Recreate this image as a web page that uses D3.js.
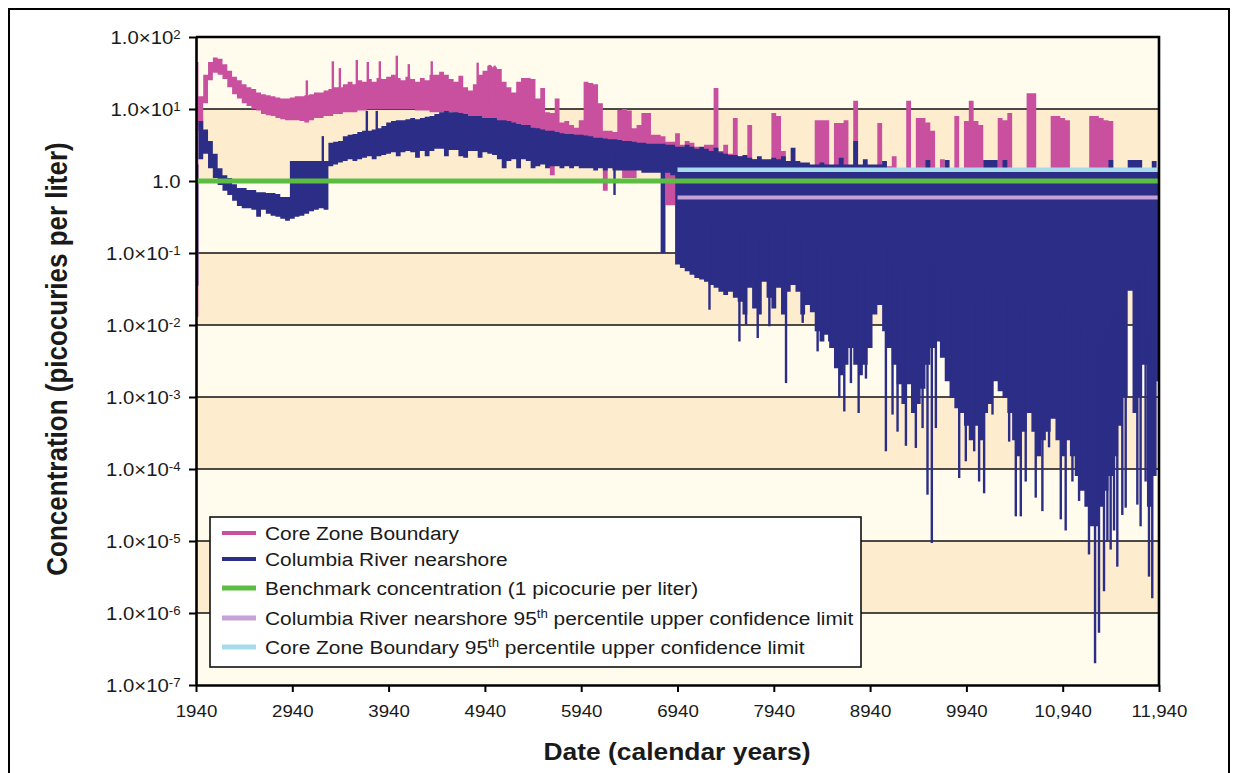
<!DOCTYPE html>
<html>
<head>
<meta charset="utf-8">
<script src="https://cdn.jsdelivr.net/npm/d3@7"></script>
<style>
  body { margin: 0; background: #fff; }
  svg text { font-family: "Liberation Sans", Arial, Helvetica, sans-serif; fill: #1a1a1a; }
</style>
</head>
<body>
<svg id="chart" width="1235" height="773"></svg>
<script>
// Simulated concentrations, one sample every 50 calendar years (1940 to 11940).
const years = d3.range(1940, 11941, 50);

// Core Zone Boundary: upper and lower edge of the fluctuation band (pCi/L)
const coreHi = [
  45,15,30,45,52,50,42,34,28,25,
  22,20,19,17,16,15.5,15,14.5,14,14,
  14.5,15,15,15.5,16,17,17,18,19,20,
  20,22,24,22,25,24,26,24,27,26,
  28,30,27,25,28,26,24,27,25,30,
  30,33,30,26,24,29,20,18,22,30,
  34,40,38,36,24,20,17,24,27,27,
  26,14,19.5,9,8.8,14,6.5,6.8,6,5.5,
  7,24,23,22,12,5,5,4.8,9.7,10,
  9.5,5.4,6,8.8,8.8,4.4,4.4,4.2,3.5,3.5,
  4.6,3.2,3.6,3.4,3,2.8,3.2,3.2,19.5,2.6,
  3.2,2.4,7.5,2.2,2.2,6,2,1.8,1.8,1.8,
  8.8,8,2.6,1.6,1.6,1.6,1.6,1.6,1.6,7,
  7,7,1.6,6.4,6.4,7,1.6,13,1.6,1.6,
  1.6,1.6,6.4,1.6,1.6,2.2,1.5,1.5,13,1.5,
  7.5,7.5,6.5,5,1.5,2,1.5,1.5,8,1.5,
  6.8,13,6.8,6,1.5,1.5,1.5,7.5,7,8.8,
  1.5,1.5,1.5,16.6,16.6,1.5,1.5,1.5,8,8,
  7.5,7,1.5,1.5,1.5,1.5,8,8,7.5,7,
  6.8,1.5,1.5,1.5,1.5,1.5,1.5,1.5,1.5,1.5,
  1.5
];
const coreLo = [
  0.013,5,12,25,32,30,26,20,16,14,
  12,11,10,9.5,8.5,8.2,8,7.5,7.2,7,
  7,7,6.8,6.5,7,7.5,7.5,8,8,8.5,
  8.5,9,9,9,9.5,9.5,10,10,10,10,
  10,10,10,10,10,10,9.5,9.5,9.5,9,
  9,9,9,9,8.5,8,8,8,8,8,
  2.6,2.6,7,6.5,6.5,6.5,6,6,6,5.5,
  5,4.5,4.5,4,1.2,4,3.5,3.5,3.5,3,
  3,3,3,3,3,0.73,2.5,2.5,2.5,1.1,
  1.1,1.1,2.5,2.5,2.5,2,2,2,0.46,0.46,
  2,1.2,1.2,1.2,1.2,1.2,1.2,1.2,1.2,1.2,
  1.2,1.2,1.2,1.2,1.2,1.2,1.2,1.2,1.2,1.2,
  1.2,1.2,1.2,1.2,1.2,1.2,1.2,1.2,1.2,1.2,
  1.2,1.2,1.2,1.2,1.2,1.2,1.2,1.2,1.2,1.2,
  1.2,1.2,1.2,1.2,1.2,1.2,1.2,1.2,1.2,1.2,
  1.2,1.2,1.2,1.2,1.2,1.2,1.2,1.2,1.2,1.2,
  1.2,1.2,1.2,1.2,1.2,1.2,1.2,1.2,1.2,1.2,
  1.2,1.2,1.2,1.2,1.2,1.2,1.2,1.2,1.2,1.2,
  1.2,1.2,1.2,1.2,1.2,1.2,1.2,1.2,1.2,1.2,
  1.2,1.2,1.2,1.2,1.2,1.2,1.2,1.2,1.2,1.2,
  1.2
];
// Isolated Core Zone Boundary peaks
const coreSpikeYears  = [3091, 3361, 3434, 3610, 3724, 3849, 4025, 4150, 4388, 4865, 4990, 5041];
const coreSpikeValues = [25, 46, 37, 48, 45, 46, 55, 42, 46, 44, 41, 40];

// Columbia River nearshore: upper and lower edge of the fluctuation band (pCi/L)
const riverHi = [
  1.7,6.8,5.2,3.6,2.4,1.5,1.2,1.1,0.9,0.8,
  0.8,0.75,0.75,0.7,0.7,0.68,0.68,0.66,0.6,0.6,
  1.9,1.9,1.9,1.9,1.9,1.9,1.9,1.9,3.4,3.5,
  3.6,4.2,4.4,4.5,4.8,5,5,5.2,5.4,5.8,
  6.5,6.8,7,7,7.2,7.5,7.2,7.5,7.8,8,
  8.5,9,9.4,9,9,8.8,8.5,8,8,8,
  7.5,7.5,7.5,7,7,6.8,6.5,6.2,6,6,
  5.5,5.4,5.2,5,5,4.8,4.6,4.5,4.5,4.4,
  4.4,4.3,4.2,4,4,3.9,3.8,3.8,3.7,3.6,
  3.6,3.5,3.4,3.4,3.3,3.3,3.3,3.3,3.2,3.2,
  3,3,3.2,3,2.8,3,2.8,2.6,2.9,2.5,
  2.4,2.3,2.3,2.2,2.3,2.1,2,2.2,2,2,
  2.1,2,2.2,1.9,2.9,1.9,1.8,1.8,1.7,1.7,
  1.8,1.7,1.7,1.7,2.1,1.7,1.7,3.6,1.7,2,
  1.7,1.7,1.7,1.9,1.5,1.5,1.5,1.5,1.5,1.5,
  1.5,1.5,1.95,1.5,1.5,1.5,1.95,1.5,1.5,1.5,
  1.5,1.5,1.5,1.5,1.95,1.95,1.95,1.5,1.95,1.5,
  1.5,1.5,1.5,1.5,1.5,1.5,1.5,1.5,1.5,1.5,
  1.5,1.5,1.5,1.5,1.5,1.5,1.5,1.5,1.5,1.5,
  1.95,1.5,1.5,1.5,1.95,1.95,1.95,1.5,1.5,1.9,
  1.5
];
const riverLo = [
  0.035,2,2.4,1.5,1.1,0.88,0.73,0.64,0.53,0.45,
  0.42,0.42,0.4,0.32,0.4,0.35,0.33,0.32,0.3,0.28,
  0.3,0.32,0.33,0.35,0.38,0.4,0.42,0.4,1.6,1.7,
  1.8,1.9,2,1.9,2,2.1,2.2,2,2.2,2.3,
  2.4,2.5,2.2,2.5,2.6,2.5,2.1,2.6,2.2,2.6,
  2.8,2.8,2.2,2.7,2.7,2.2,2.1,2.6,2.6,2.1,
  2.5,2.4,2.3,2,1.5,1.9,2,1.5,2,1.9,
  1.5,1.6,1.7,1.5,1.6,1.6,1.5,1.6,1.5,1.6,
  1.5,1.5,1.5,1.4,1.5,1.4,1.5,1.4,1.4,1.4,
  1.4,1.4,1.4,1.3,1.3,1.3,1.3,0.1,1.3,1.2,
  0.069,0.062,0.056,0.05,0.045,0.043,0.04,0.036,0.033,0.029,
  0.026,0.029,0.024,0.021,0.014,0.033,0.017,0.014,0.04,0.024,
  0.017,0.033,0.014,0.029,0.036,0.029,0.014,0.019,0.015,0.0082,
  0.0059,0.0073,0.0048,0.0025,0.002,0.0028,0.0048,0.0028,0.002,0.0028,
  0.0048,0.014,0.019,0.0082,0.0048,0.0028,0.0015,0.0008,0.0015,0.0006,
  0.0008,0.0013,0.0028,0.0048,0.0059,0.0035,0.00165,0.00097,0.0007,0.0006,
  0.0004,0.00025,0.0004,0.00025,0.0006,0.0008,0.00165,0.0012,0.00097,0.0006,
  0.00025,0.00015,0.00033,0.0006,0.00033,0.00015,0.00025,0.00033,0.0005,0.00025,
  0.00015,0.00025,0.00015,0.00008,0.00005,0.00003,0.000016,0.000016,0.00003,0.00005,
  0.00008,0.00015,0.0004,0.001,0.03,0.0006,0.001,0.0028,0.00003,0.00008,
  0.00165
];
// Isolated Columbia River nearshore excursions (upward and downward)
const riverSpikeYears = [
  3257, 3714, 3817, 6286,
  7272, 7583, 7652, 7773, 7894, 8067, 8240, 8395, 8516, 8620,
  8672, 8741, 8821, 8897, 9104, 9173, 9225, 9312, 9415, 9485,
  9536, 9581, 9623, 9796, 9865, 9934, 10021, 10072, 10124, 10211,
  10384, 10453, 10505, 10556, 10660, 10729, 10798, 10920, 10971, 11041,
  11110, 11213, 11276, 11317, 11369, 11404, 11438, 11473, 11507, 11559,
  11594, 11715, 11749, 11801, 11836, 11870
];
const riverSpikeValues = [
  4.2, 9.4, 9.4, 0.64,
  0.0163, 0.0059, 0.0101, 0.0066, 0.0096, 0.00156, 0.0107, 0.0043, 0.0059, 0.00097,
  0.00063, 0.00156, 0.0006, 0.0018, 0.000176, 0.00057, 0.00033, 0.00021, 0.000196, 0.00037,
  0.000044, 0.0000094, 0.00037, 0.002, 0.000075, 0.000128, 0.000176, 0.000067, 0.000046, 0.00057,
  0.00024, 0.000022, 0.000022, 0.000067, 0.00004, 0.000026, 0.0002, 0.00002, 0.000014, 0.000067,
  0.000036, 0.0000065, 0.0000002, 0.00000053, 0.000002, 0.0000099, 0.0000076, 0.000014, 0.0000044, 0.000023,
  0.000029, 0.000032, 0.000016, 0.000067, 0.0000032, 0.0000016
];

// Reference levels (pCi/L)
const benchmarkLevel = 1.0;
const riverUCL = 0.59;
const coreUCL = 1.43;
const uclStartYear = 6940;

// Axis ticks
const xTicks = [1940, 2940, 3940, 4940, 5940, 6940, 7940, 8940, 9940, 10940, 11940];
const xTickLabels = ["1940", "2940", "3940", "4940", "5940", "6940", "7940", "8940", "9940", "10,940", "11,940"];
const yTicks = [1e2, 1e1, 1, 1e-1, 1e-2, 1e-3, 1e-4, 1e-5, 1e-6, 1e-7];

// Palette
const PINK = "#c8509f", NAVY = "#2b2d86", GREEN = "#5cbd43", LAVENDER = "#c6a2d8", SKY = "#a8dbec";
const BAND_A = "#fffbed", BAND_B = "#fdeccd";
const SX = 1.1; // horizontal stretch applied to all lettering

const svg = d3.select("#chart");
const M = { left: 196, right: 1159, top: 37, bottom: 685 };

// outer frame
svg.append("rect").attr("x", 9).attr("y", 9).attr("width", 1220).attr("height", 800)
  .attr("fill", "#fff").attr("stroke", "#000").attr("stroke-width", 2);

const x = d3.scaleLinear().domain([1940, 11940]).range([M.left, M.right]);
const y = d3.scaleLog().domain([1e-7, 1e2]).range([M.bottom, M.top]);

// alternating decade bands
for (let k = 0; k < yTicks.length - 1; k++) {
  svg.append("rect")
    .attr("x", M.left).attr("width", M.right - M.left)
    .attr("y", y(yTicks[k])).attr("height", y(yTicks[k + 1]) - y(yTicks[k]))
    .attr("fill", k % 2 === 0 ? BAND_A : BAND_B);
}
// decade gridlines
svg.append("g").selectAll("line").data(yTicks.slice(1, -1)).join("line")
  .attr("x1", M.left).attr("x2", M.right)
  .attr("y1", d => y(d)).attr("y2", d => y(d))
  .attr("stroke", "#111").attr("stroke-width", 1.4);

svg.append("clipPath").attr("id", "plotClip").append("rect")
  .attr("x", M.left).attr("y", M.top).attr("width", M.right - M.left).attr("height", M.bottom - M.top);
const plot = svg.append("g").attr("clip-path", "url(#plotClip)");

const band = (hi, lo) => d3.area()
  .x((d, i) => x(years[i]))
  .y0((d, i) => y(lo[i]))
  .y1((d, i) => y(hi[i]))
  .curve(d3.curveStep);

const nearest = yr => Math.max(0, Math.min(years.length - 1, Math.round((yr - 1940) / 50)));

function spikes(g, ys, vs, hi, lo, color) {
  g.append("g").selectAll("line").data(ys).join("line")
    .attr("x1", d => x(d)).attr("x2", d => x(d))
    .attr("y1", (d, i) => y(vs[i]))
    .attr("y2", d => { const k = nearest(d); return y(Math.sqrt(hi[k] * lo[k])); })
    .attr("stroke", color).attr("stroke-width", 2.4);
}

// Core Zone Boundary
plot.append("path").datum(years).attr("d", band(coreHi, coreLo)).attr("fill", PINK);
spikes(plot, coreSpikeYears, coreSpikeValues, coreHi, coreLo, PINK);
// Columbia River nearshore
plot.append("path").datum(years).attr("d", band(riverHi, riverLo)).attr("fill", NAVY);
spikes(plot, riverSpikeYears, riverSpikeValues, riverHi, riverLo, NAVY);

// benchmark and confidence limits
const hline = (y0, x0, x1, color, w) => plot.append("line")
  .attr("x1", x(x0)).attr("x2", x(x1)).attr("y1", y(y0)).attr("y2", y(y0))
  .attr("stroke", color).attr("stroke-width", w);
hline(benchmarkLevel, 1940, 11940, GREEN, 5);
hline(riverUCL, uclStartYear, 11940, LAVENDER, 4);
hline(coreUCL, uclStartYear, 11940, SKY, 4.5);

// plot frame (top and right)
svg.append("path")
  .attr("d", `M${M.left},${M.top}H${M.right}V${M.bottom}`)
  .attr("fill", "none").attr("stroke", "#000").attr("stroke-width", 2.6);

// y axis
const yAxisG = svg.append("g").attr("transform", `translate(${M.left},0)`)
  .call(d3.axisLeft(y).tickValues(yTicks).tickSize(7).tickSizeOuter(0).tickPadding(7));
yAxisG.select(".domain").attr("stroke", "#000").attr("stroke-width", 2.6);
yAxisG.selectAll(".tick line").attr("stroke", "#000").attr("stroke-width", 2);
yAxisG.selectAll(".tick text").each(function (d) {
  const t = d3.select(this);
  const e = Math.round(Math.log10(d));
  t.text(null).attr("font-size", 18.5).attr("font-family", null)
    .attr("transform", `scale(${SX},1)`).attr("dy", "0.36em");
  if (e === 0) { t.text("1.0"); return; }
  t.append("tspan").text("1.0\u00d710");
  t.append("tspan").attr("dy", "-0.45em").attr("font-size", 12).text(e);
});

// x axis
const xAxisG = svg.append("g").attr("transform", `translate(0,${M.bottom})`)
  .call(d3.axisBottom(x).tickValues(xTicks).tickFormat((d, i) => xTickLabels[i])
    .tickSize(7).tickSizeOuter(0).tickPadding(13));
xAxisG.select(".domain").attr("stroke", "#000").attr("stroke-width", 2.6);
xAxisG.selectAll(".tick line").attr("stroke", "#000").attr("stroke-width", 2);
xAxisG.selectAll(".tick text").attr("font-size", 17).attr("font-family", null)
  .attr("transform", `scale(${SX},1)`);

// axis titles
svg.append("text").attr("transform", `translate(677,760) scale(${SX},1)`)
  .attr("text-anchor", "middle").attr("font-size", 24).attr("font-weight", "bold")
  .text("Date (calendar years)");
svg.append("text").attr("transform", `translate(57,359) scale(${SX},1) rotate(-90)`)
  .attr("text-anchor", "middle").attr("dy", "0.36em").attr("font-size", 26).attr("font-weight", "bold")
  .text("Concentration (picocuries per liter)");

// legend
const legendItems = [
  { color: PINK, w: 4, parts: ["Core Zone Boundary"] },
  { color: NAVY, w: 4, parts: ["Columbia River nearshore"] },
  { color: GREEN, w: 5, parts: ["Benchmark concentration (1 picocurie per liter)"] },
  { color: LAVENDER, w: 5, parts: ["Columbia River nearshore 95", "th", " percentile upper confidence limit"] },
  { color: SKY, w: 5, parts: ["Core Zone Boundary 95", "th", " percentile upper confidence limit"] }
];
const legendRows = [533, 559, 588, 618, 647];
const lg = svg.append("g");
lg.append("rect").attr("x", 210).attr("y", 517).attr("width", 651).attr("height", 150)
  .attr("fill", "#fff").attr("stroke", "#111").attr("stroke-width", 1.6);
legendItems.forEach((it, i) => {
  const ry = legendRows[i];
  lg.append("line").attr("x1", 222).attr("x2", 256).attr("y1", ry).attr("y2", ry)
    .attr("stroke", it.color).attr("stroke-width", it.w);
  const t = lg.append("text").attr("transform", `translate(265,${ry}) scale(${SX},1)`)
    .attr("dy", "0.36em").attr("font-size", 19);
  t.append("tspan").text(it.parts[0]);
  if (it.parts.length > 1) {
    t.append("tspan").attr("dy", -7).attr("font-size", 12).text(it.parts[1]);
    t.append("tspan").attr("dy", 7).text(it.parts[2]);
  }
});
</script>
</body>
</html>
